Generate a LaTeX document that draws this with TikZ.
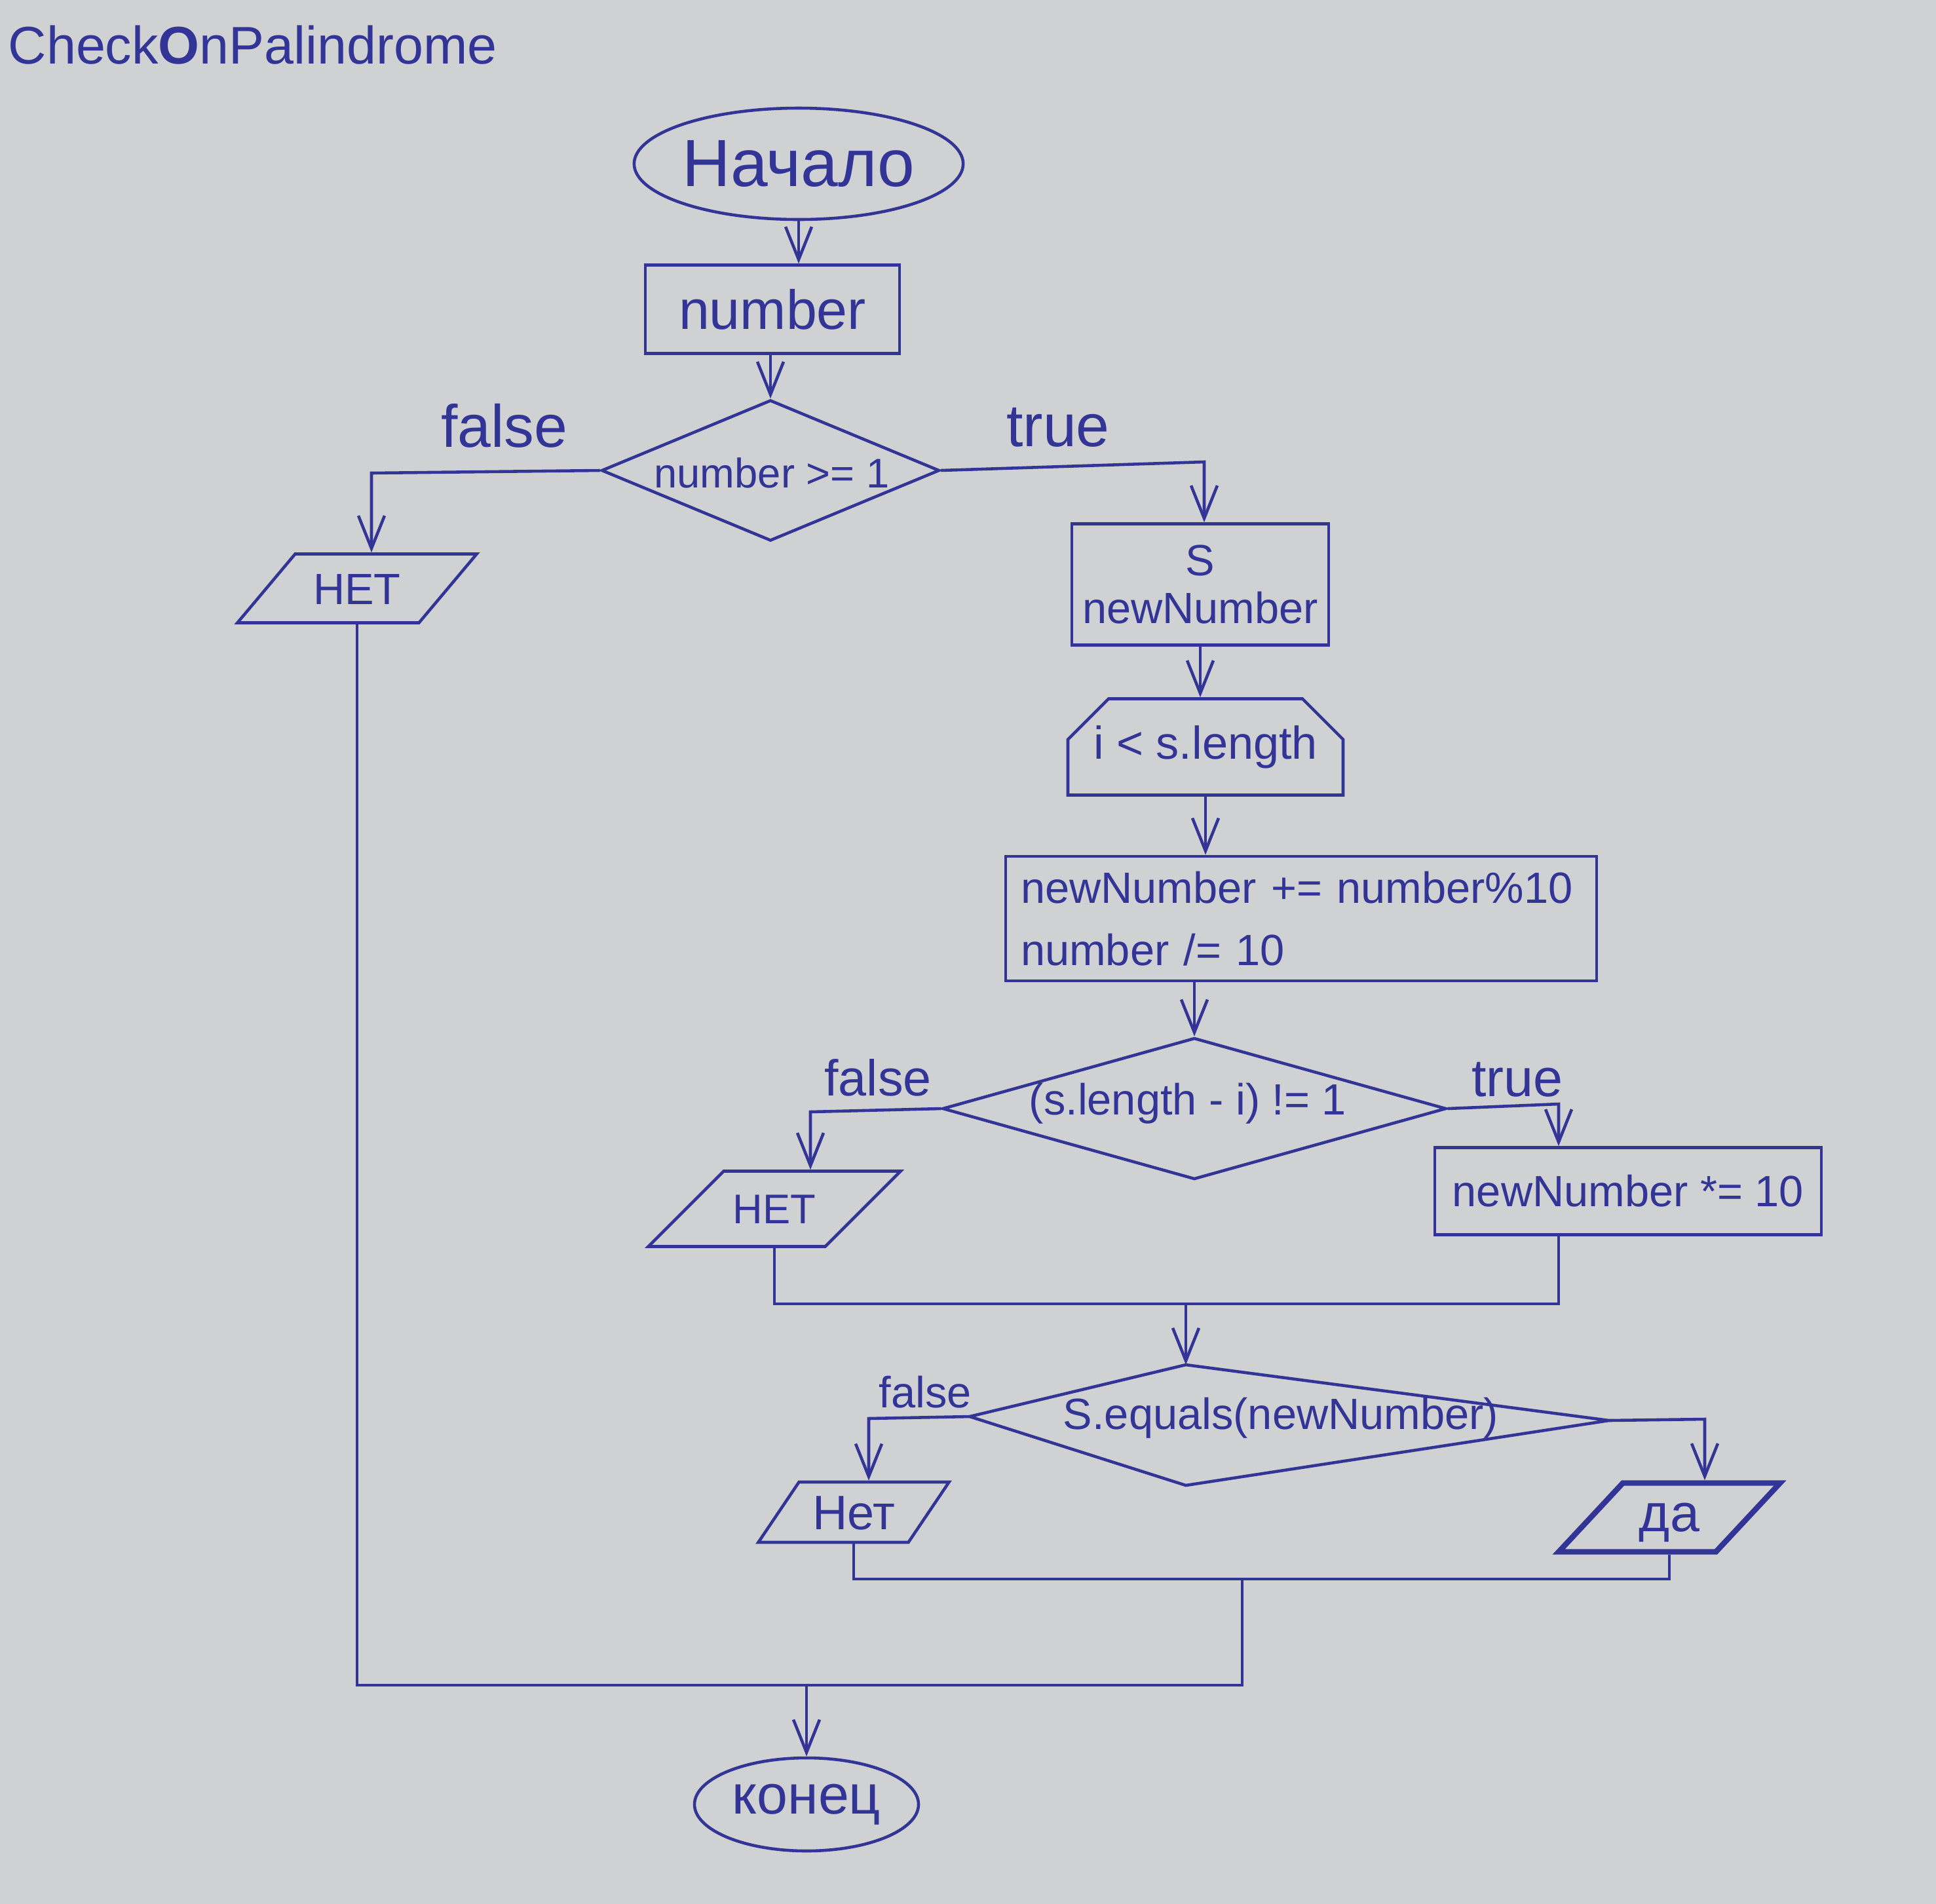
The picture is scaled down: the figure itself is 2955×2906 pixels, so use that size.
\documentclass[tikz,border=0pt]{standalone}
\usepackage{fontspec}
\setmainfont{Liberation Sans}
\usetikzlibrary{shapes.geometric,shapes.misc,arrows.meta}
\definecolor{ink}{RGB}{50,52,150}
\definecolor{paper}{RGB}{207,209,211}
\begin{document}
\begin{tikzpicture}[x=0.1mm,y=-0.1mm,
  pen/.style={draw=ink,line width=1.3pt},
  flow/.style={pen},
  arr/.style={pen,-{Straight Barb[length=5mm,width=4mm]}},
  txt/.style={text=ink,inner sep=0pt},
  term/.style={pen,ellipse,text=ink,inner sep=0pt},
  proc/.style={pen,rectangle,text=ink,inner sep=0pt},
  dec/.style={pen,diamond,inner sep=0pt},
  io/.style={pen,trapezium,text=ink,inner sep=0pt,align=center,minimum width=1pt,minimum height=1pt},
  lim/.style={pen,chamfered rectangle,chamfered rectangle corners={north west,north east},
    chamfered rectangle xsep=2.8mm,chamfered rectangle ysep=3.4mm,text=ink,inner sep=0pt}]
\useasboundingbox (0,0) rectangle (2955,2906);
\fill[paper] (0,0) rectangle (2955,2906);

% title
\node[txt,anchor=base west,font=\fontsize{23}{28}\selectfont] (title) at (12,97) {Check\textbf{O}nPalindrome};

% nodes
\node[term,minimum width=49.6mm,minimum height=17mm,font=\fontsize{29}{34}\selectfont] (start) at (1219,250) {Начало};
\node[proc,minimum width=38.8mm,minimum height=13.5mm,font=\fontsize{24}{28}\selectfont] (num) at (1179,472) {number};
\node[dec,minimum width=51.6mm,minimum height=21.5mm] (d1) at (1176,718) {};
\node[txt,font=\fontsize{18}{22}\selectfont] (d1t) at (1178,722) {number >= 1};

\node[io,trapezium left angle=50,trapezium right angle=130,text width=18.9mm,text height=7.65mm,text depth=2.85mm,font=\fontsize{19}{22}\selectfont] (no1) at (545,898) {НЕТ};

\node[proc,minimum width=39.2mm,minimum height=18.5mm,align=center,font=\fontsize{19}{21}\selectfont] (snb) at (1832,892) {S\\newNumber};
\node[lim,minimum width=42mm,minimum height=14.7mm,font=\fontsize{20}{24}\selectfont] (loop) at (1840,1140) {i < s.length};
\node[proc,minimum width=90.2mm,minimum height=17.5mm,text width=85.6mm,align=left,inner sep=2.3mm,font=\fontsize{19}{27}\selectfont] (proc) at (1986,1402) {newNumber += number\%10\\number /= 10};

\node[dec,minimum width=76.9mm,minimum height=21.6mm] (d2) at (1823,1692) {};
\node[txt,font=\fontsize{19}{22}\selectfont] (d2t) at (1813,1684) {(s.length - i) != 1};

\node[io,trapezium left angle=45,trapezium right angle=135,text width=15.5mm,text height=8.03mm,text depth=3.47mm,font=\fontsize{18}{22}\selectfont] (no2) at (1182,1845) {НЕТ};
\node[proc,minimum width=59mm,minimum height=13.3mm,font=\fontsize{19}{22}\selectfont] (mul) at (2485,1818) {newNumber *= 10};

% third decision (kite-like diamond)
\coordinate (d3n) at (1810,2083);
\coordinate (d3e) at (2456,2168);
\coordinate (d3s) at (1810,2267);
\coordinate (d3w) at (1480,2162);
\draw[pen] (d3n) -- (d3e) -- (d3s) -- (d3w) -- cycle;
\node[txt,font=\fontsize{19}{22}\selectfont] (d3) at (1955,2164) {S.equals(newNumber)};

\node[io,trapezium left angle=56,trapezium right angle=124,text width=16.7mm,text height=7.25mm,text depth=1.95mm,font=\fontsize{21}{24}\selectfont] (no3) at (1303,2308) {Нет};
\node[io,line width=2.4pt,trapezium left angle=47,trapezium right angle=133,text width=14.2mm,text height=7.35mm,text depth=3.15mm,font=\fontsize{23}{26}\selectfont] (yes) at (2548,2316) {да};

\node[term,minimum width=34.2mm,minimum height=14.2mm,font=\fontsize{24}{28}\selectfont] (stop) at (1231,2754) {конец};

% branch labels
\node[txt,font=\fontsize{26}{30}\selectfont] (lf1) at (770,650) {false};
\node[txt,font=\fontsize{26}{30}\selectfont] (lt1) at (1615,652) {true};
\node[txt,font=\fontsize{22}{26}\selectfont] (lf2) at (1340,1645) {false};
\node[txt,font=\fontsize{23}{26}\selectfont] (lt2) at (2316,1648) {true};
\node[txt,font=\fontsize{19}{22}\selectfont] (lf3) at (1412,2125) {false};

% helper coordinates
\coordinate (f1c) at (567,722);
\coordinate (t1c) at (1838,705);
\coordinate (f2c) at (1237,1697);
\coordinate (t2c) at (2379,1685);
\coordinate (m1) at (1810,1990);
\coordinate (f3c) at (1326,2165);
\coordinate (t3c) at (2602,2166);
\coordinate (m2) at (1896,2410);
\coordinate (bot) at (1231,2572);

% connectors
\draw[arr] (start.south) -- (start.south |- num.north);
\draw[arr] (num.south -| d1.north) -- (d1.north);
\draw[arr] (d1.west) -- (f1c) -- (f1c |- no1.north);
\draw[arr] (d1.east) -- (t1c) -- (t1c |- snb.north);
\draw[arr] (snb.south) -- (snb.south |- loop.north);
\draw[arr] (loop.south) -- (loop.south |- proc.north);
\draw[arr] (proc.south -| d2.north) -- (d2.north);
\draw[arr] (d2.west) -- (f2c) -- (f2c |- no2.north);
\draw[arr] (d2.east) -- (t2c) -- (t2c |- mul.north);
\draw[flow] (no2.south) |- (t2c |- m1) -- (t2c |- mul.south);
\draw[arr] (m1) -- (d3n);
\draw[arr] (d3w) -- (f3c) -- (f3c |- no3.north);
\draw[arr] (d3e) -- (t3c) -- (t3c |- yes.north);
\draw[flow] (no3.south) |- (yes.south |- m2) -- (yes.south);
\draw[flow] (no1.south) |- (m2 |- bot) -- (m2);
\draw[arr] (bot) -- (bot |- stop.north);
\end{tikzpicture}
\end{document}
